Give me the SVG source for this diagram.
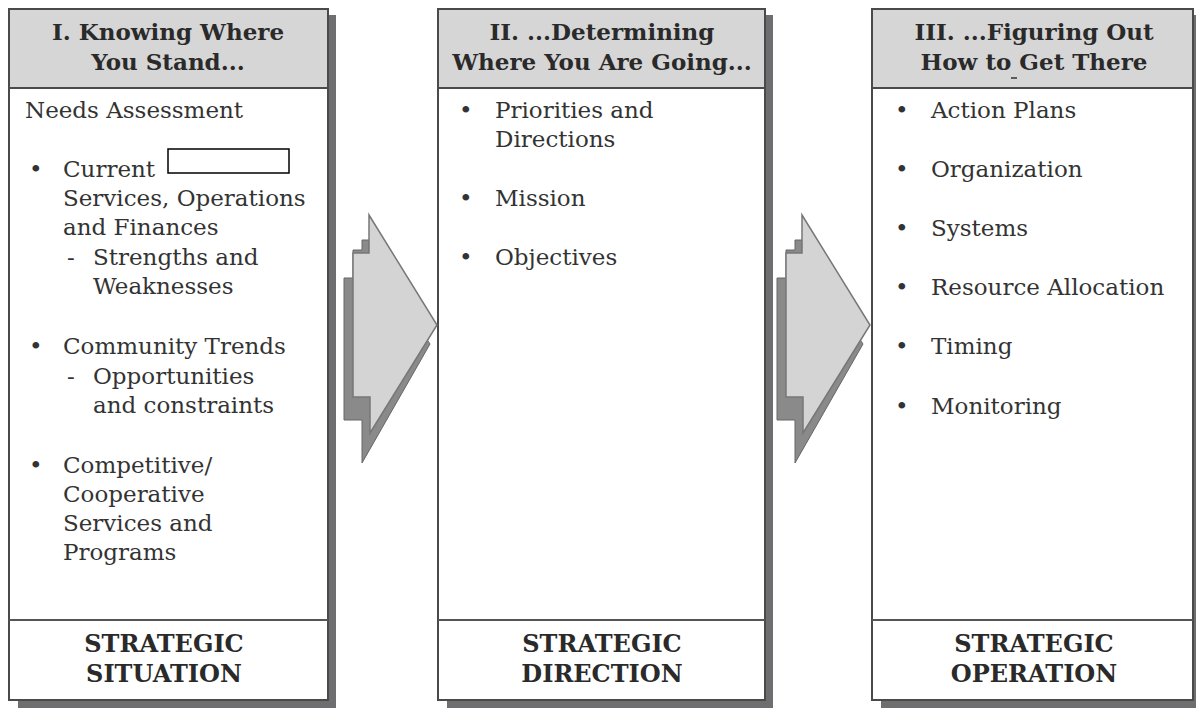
<svg xmlns="http://www.w3.org/2000/svg" width="1196" height="708" viewBox="0 0 1196 708">
<style>
.shadow{fill:#6e6e70}
.box{fill:#fff;stroke:#4a4a4a;stroke-width:2}
.hdr{fill:#d6d6d6;stroke:#4a4a4a;stroke-width:2}
.div{stroke:#555;stroke-width:2}
text{font-family:"DejaVu Serif","Liberation Serif",serif;fill:#333}
.h{font-size:23px;font-weight:bold;text-anchor:middle;fill:#2a2a2a}
.t{font-size:23px}
.f{font-size:24px;font-weight:bold;text-anchor:middle;fill:#2a2a2a}
.arrowDark{fill:#8a8a8a;stroke:#666;stroke-width:1}
.arrowLight{fill:#d4d4d4;stroke:#777;stroke-width:1.5}
</style>
<rect width="1196" height="708" fill="#fff"/>

<g id="node-situation">
  <rect class="shadow" x="328" y="15" width="8" height="693"/>
  <rect class="shadow" x="18" y="700" width="318" height="8"/>
  <rect class="box" x="9" y="9" width="319" height="691"/>
  <rect class="hdr" x="9" y="9" width="319" height="79"/>
  <line class="div" x1="9" y1="620" x2="328" y2="620"/>
  <text class="h" x="168" y="40">I.  Knowing Where</text>
  <text class="h" x="168" y="70">You Stand...</text>
  <text class="t" x="25" y="118">Needs Assessment</text>
  <text class="t" x="29" y="177">•</text>
  <text class="t" x="63" y="177">Current</text>
  <rect x="168" y="149" width="121" height="24" fill="#fff" stroke="#000" stroke-width="1.5"/>
  <text class="t" x="63" y="206">Services, Operations</text>
  <text class="t" x="63" y="235">and Finances</text>
  <text class="t" x="67" y="265">-</text>
  <text class="t" x="93" y="265">Strengths and</text>
  <text class="t" x="93" y="294">Weaknesses</text>
  <text class="t" x="29" y="354">•</text>
  <text class="t" x="63" y="354">Community Trends</text>
  <text class="t" x="67" y="384">-</text>
  <text class="t" x="93" y="384">Opportunities</text>
  <text class="t" x="93" y="413">and constraints</text>
  <text class="t" x="29" y="473">•</text>
  <text class="t" x="63" y="473">Competitive/</text>
  <text class="t" x="63" y="502">Cooperative</text>
  <text class="t" x="63" y="531">Services and</text>
  <text class="t" x="63" y="560">Programs</text>
  <text class="f" x="164" y="652">STRATEGIC</text>
  <text class="f" x="164" y="682">SITUATION</text>
</g>

<g id="node-direction">
  <rect class="shadow" x="765" y="15" width="8" height="693"/>
  <rect class="shadow" x="447" y="700" width="326" height="8"/>
  <rect class="box" x="438" y="9" width="327" height="691"/>
  <rect class="hdr" x="438" y="9" width="327" height="79"/>
  <line class="div" x1="438" y1="620" x2="765" y2="620"/>
  <text class="h" x="602" y="40">II.  ...Determining</text>
  <text class="h" x="602" y="70">Where You Are Going...</text>
  <text class="t" x="459" y="118">•</text>
  <text class="t" x="495" y="118">Priorities and</text>
  <text class="t" x="495" y="147">Directions</text>
  <text class="t" x="459" y="206">•</text>
  <text class="t" x="495" y="206">Mission</text>
  <text class="t" x="459" y="265">•</text>
  <text class="t" x="495" y="265">Objectives</text>
  <text class="f" x="602" y="652">STRATEGIC</text>
  <text class="f" x="602" y="682">DIRECTION</text>
</g>

<g id="node-operation">
  <rect class="shadow" x="1193" y="15" width="3" height="693"/>
  <rect class="shadow" x="881" y="700" width="315" height="8"/>
  <rect class="box" x="872" y="9" width="321" height="691"/>
  <rect class="hdr" x="872" y="9" width="321" height="79"/>
  <line class="div" x1="872" y1="620" x2="1193" y2="620"/>
  <text class="h" x="1034" y="40">III.  ...Figuring Out</text>
  <text class="h" x="1034" y="70">How to Get There</text>
  <line x1="1011" y1="78" x2="1017" y2="78" stroke="#333" stroke-width="1.5"/>
  <text class="t" x="895" y="118">•</text>
  <text class="t" x="931" y="118">Action Plans</text>
  <text class="t" x="895" y="177">•</text>
  <text class="t" x="931" y="177">Organization</text>
  <text class="t" x="895" y="236">•</text>
  <text class="t" x="931" y="236">Systems</text>
  <text class="t" x="895" y="295">•</text>
  <text class="t" x="931" y="295">Resource Allocation</text>
  <text class="t" x="895" y="354">•</text>
  <text class="t" x="931" y="354">Timing</text>
  <text class="t" x="895" y="414">•</text>
  <text class="t" x="931" y="414">Monitoring</text>
  <text class="f" x="1034" y="652">STRATEGIC</text>
  <text class="f" x="1034" y="682">OPERATION</text>
</g>

<g id="connectors">
  <g id="arrow-1">
    <polygon class="arrowDark" points="362,240 369,240 369,253 430,344 362,463 362,420 344,420 344,278 353,278 353,250 362,250"/>
    <polygon class="arrowLight" points="369,215 437,325 370,433 370,397 353,397 353,253 369,253"/>
  </g>
  <g id="arrow-2" transform="translate(433,0)">
    <polygon class="arrowDark" points="362,240 369,240 369,253 430,344 362,463 362,420 344,420 344,278 353,278 353,250 362,250"/>
    <polygon class="arrowLight" points="369,215 437,325 370,433 370,397 353,397 353,253 369,253"/>
  </g>
</g>
</svg>
